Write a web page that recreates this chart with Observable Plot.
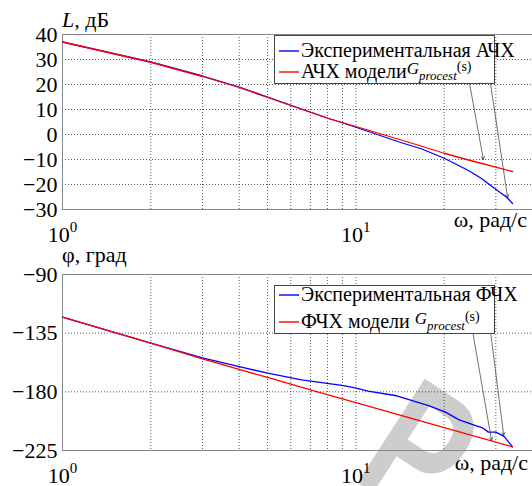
<!DOCTYPE html>
<html><head><meta charset="utf-8">
<script src="https://cdn.jsdelivr.net/npm/d3@7"></script>
<script src="https://cdn.jsdelivr.net/npm/@observablehq/plot@0.6"></script>
<style>
body{margin:0;background:#fff;}
#chart svg{display:block;}
#chart svg text, #chart svg tspan { font-family: 'Liberation Serif', serif; }
#chart svg text.wm { font-family: 'Liberation Sans', sans-serif; font-weight: bold; }
</style></head>
<body><div id="chart"></div>
<script>
// ---- data ----
const ampExpOmega = [1, 2, 3, 4, 5, 8, 10, 14.3, 16.7, 20, 24.2, 26.8, 30.6, 32.6, 34.2];
const ampExpL     = [37, 29, 23.4, 19, 15, 6.6, 2.9, -3.3, -5.7, -9.5, -14.4, -17.6, -22.7, -25, -27.6];
const ampModOmega = [1, 2, 3, 4, 5, 8, 10, 14.3, 20, 24.2, 34.2];
const ampModL     = [37, 28.9, 23.2, 18.8, 14.8, 6.5, 3.2, -2.2, -7.5, -10.2, -14.8];

const phExpOmega = [1, 2, 3, 4, 5, 6.53, 8.96, 9.95, 11, 13.6, 17.7, 20.2, 22.5, 24.9, 27, 28.3, 30, 32, 34.2];
const phExpDeg   = [-122.7, -142.7, -153.9, -160.6, -165.7, -170.8, -175.1, -176.9, -179.5, -182.8, -190.5, -195.6, -201.5, -205, -207.6, -210.9, -210.9, -214.2, -222.2];
const phModOmega = [1, 2, 3, 4, 5, 7.4, 10, 20, 34.2];
const phModDeg   = [-122.7, -142.6, -154.8, -162.8, -169, -180, -188.3, -207.5, -222.2];

const ampTicks = [-30, -20, -10, 0, 10, 20, 30, 40];
const phTicks  = [-225, -180, -135, -90];
const xLabelTicks = [1, 10];
const xGridTicks = [2, 3, 4, 5, 6, 7, 8, 9, 10, 20, 30];

// annotation arrows (legend text -> curve), in data coordinates
const ampArrows = [
  {x1: 24.2, y1: 22.8, x2: 27.2, y2: -10},
  {x1: 27.9, y1: 30.8, x2: 32.9, y2: -25.2}
];
const phArrows = [
  {x1: 24.8, y1: -129, x2: 29.0, y2: -217.3},
  {x1: 27.9, y1: -110, x2: 31.9, y2: -213.5}
];

const serif = "'Liberation Serif', serif";
const blue = "#0000ff", red = "#ff0000";
const zip = (xs, ys) => xs.map((x, i) => ({x, y: ys[i]}));

function panel({height, yDomain, yTicks, exp, mod, arrows}) {
  return Plot.plot({
    width: 532, height,
    marginTop: 34, marginBottom: height === 240 ? 31 : 36, marginLeft: 62, marginRight: 0,
    style: {fontFamily: serif, fontSize: "22px", background: "white", overflow: "visible"},
    x: {type: "log", domain: [1, 40], label: null},
    y: {domain: yDomain, label: null},
    marks: [
      Plot.gridX(xGridTicks, {stroke: "#000", strokeOpacity: 0.65, strokeDasharray: "1,2"}),
      Plot.gridY(yTicks, {stroke: "#000", strokeOpacity: 0.65, strokeDasharray: "1,2"}),
      Plot.frame({stroke: "#888"}),
      Plot.axisY(yTicks, {tickSize: 0, tickPadding: 5, fontSize: 22}),
      Plot.axisX(xLabelTicks, {tickSize: 0, tickPadding: 17, fontSize: 22, tickFormat: d => "10^" + Math.round(Math.log10(d))}),
      Plot.line(exp, {x: "x", y: "y", stroke: blue, strokeWidth: 1.3}),
      Plot.line(mod, {x: "x", y: "y", stroke: red, strokeWidth: 1.3}),
      Plot.arrow(arrows, {x1: "x1", y1: "y1", x2: "x2", y2: "y2", stroke: "#333", strokeWidth: 0.7, headLength: 7})
    ]
  });
}

function supTicks(svg) {
  svg.selectAll("text").each(function() {
    const t = this.textContent;
    if (t.includes("^")) {
      const [b, e] = t.split("^");
      const s = d3.select(this); s.text(null);
      s.append("tspan").text(b);
      s.append("tspan").attr("dy", "-10").attr("font-size", 15).text(e);
    }
  });
}

function legend(svg, {x, y, w, h, l1y, l2y, t1, t2}) {
  const g = svg.append("g").attr("font-family", serif).attr("text-anchor", "start");
  g.append("rect").attr("x", x + 0.5).attr("y", y + 0.5).attr("width", w).attr("height", h)
    .attr("fill", "white").attr("stroke", "#444").attr("stroke-width", 1);
  [[l1y, blue], [l2y, red]].forEach(([ly, c]) =>
    g.append("line").attr("x1", x + 5).attr("x2", x + 25).attr("y1", ly).attr("y2", ly)
      .attr("stroke", c).attr("stroke-width", 1.4));
  g.append("text").attr("x", x + 27).attr("y", l1y + 5.5).attr("font-size", 20).text(t1);
  const tt = g.append("text").attr("x", x + 27).attr("y", l2y + 5.5).attr("font-size", 20);
  tt.append("tspan").text(t2);
  tt.append("tspan").attr("font-style", "italic").attr("font-size", 17).attr("dy", -4).text("G");
  tt.append("tspan").attr("font-style", "italic").attr("font-size", 13).attr("dy", 6).text("procest");
  tt.append("tspan").attr("font-size", 14).attr("dy", -9).text("(s)");
}

const p1 = panel({height: 240, yDomain: [-30, 40], yTicks: ampTicks,
  exp: zip(ampExpOmega, ampExpL), mod: zip(ampModOmega, ampModL), arrows: ampArrows});
const p2 = panel({height: 246, yDomain: [-225, -90], yTicks: phTicks,
  exp: zip(phExpOmega, phExpDeg), mod: zip(phModOmega, phModDeg), arrows: phArrows});

const s1 = d3.select(p1), s2 = d3.select(p2);
supTicks(s1); supTicks(s2);

// watermark (behind everything)
s2.insert("text", ":first-child").attr("class", "wm").attr("transform", "translate(350,238) rotate(33) scale(0.72,1)")
  .attr("text-anchor", "start").attr("font-size", 180).attr("fill", "#cdcdcd").text("Р");

// legends
legend(s1, {x: 274, y: 35, w: 220, h: 48, l1y: 51, l2y: 72,
  t1: "Экспериментальная АЧХ", t2: "АЧХ модели"});
legend(s2, {x: 274, y: 45, w: 220, h: 48, l1y: 55, l2y: 82,
  t1: "Экспериментальная ФЧХ", t2: "ФЧХ модели "});

// axis titles
function yTitle(svg, y, parts) {
  const t = svg.append("text").attr("x", 62).attr("y", y).attr("text-anchor", "start").attr("font-size", 22);
  parts.forEach(([txt, it]) => t.append("tspan").attr("font-style", it ? "italic" : null).text(txt));
}
yTitle(s1, 27, [["L", true], [", дБ", false]]);
yTitle(s2, 22, [["φ, град", false]]);
s1.append("text").attr("x", 527).attr("y", 227).attr("text-anchor", "end").attr("font-size", 22).text("ω, рад/с");
s2.append("text").attr("x", 528).attr("y", 230).attr("text-anchor", "end").attr("font-size", 22).text("ω, рад/с");

document.getElementById("chart").append(p1, p2);
</script></body></html>
